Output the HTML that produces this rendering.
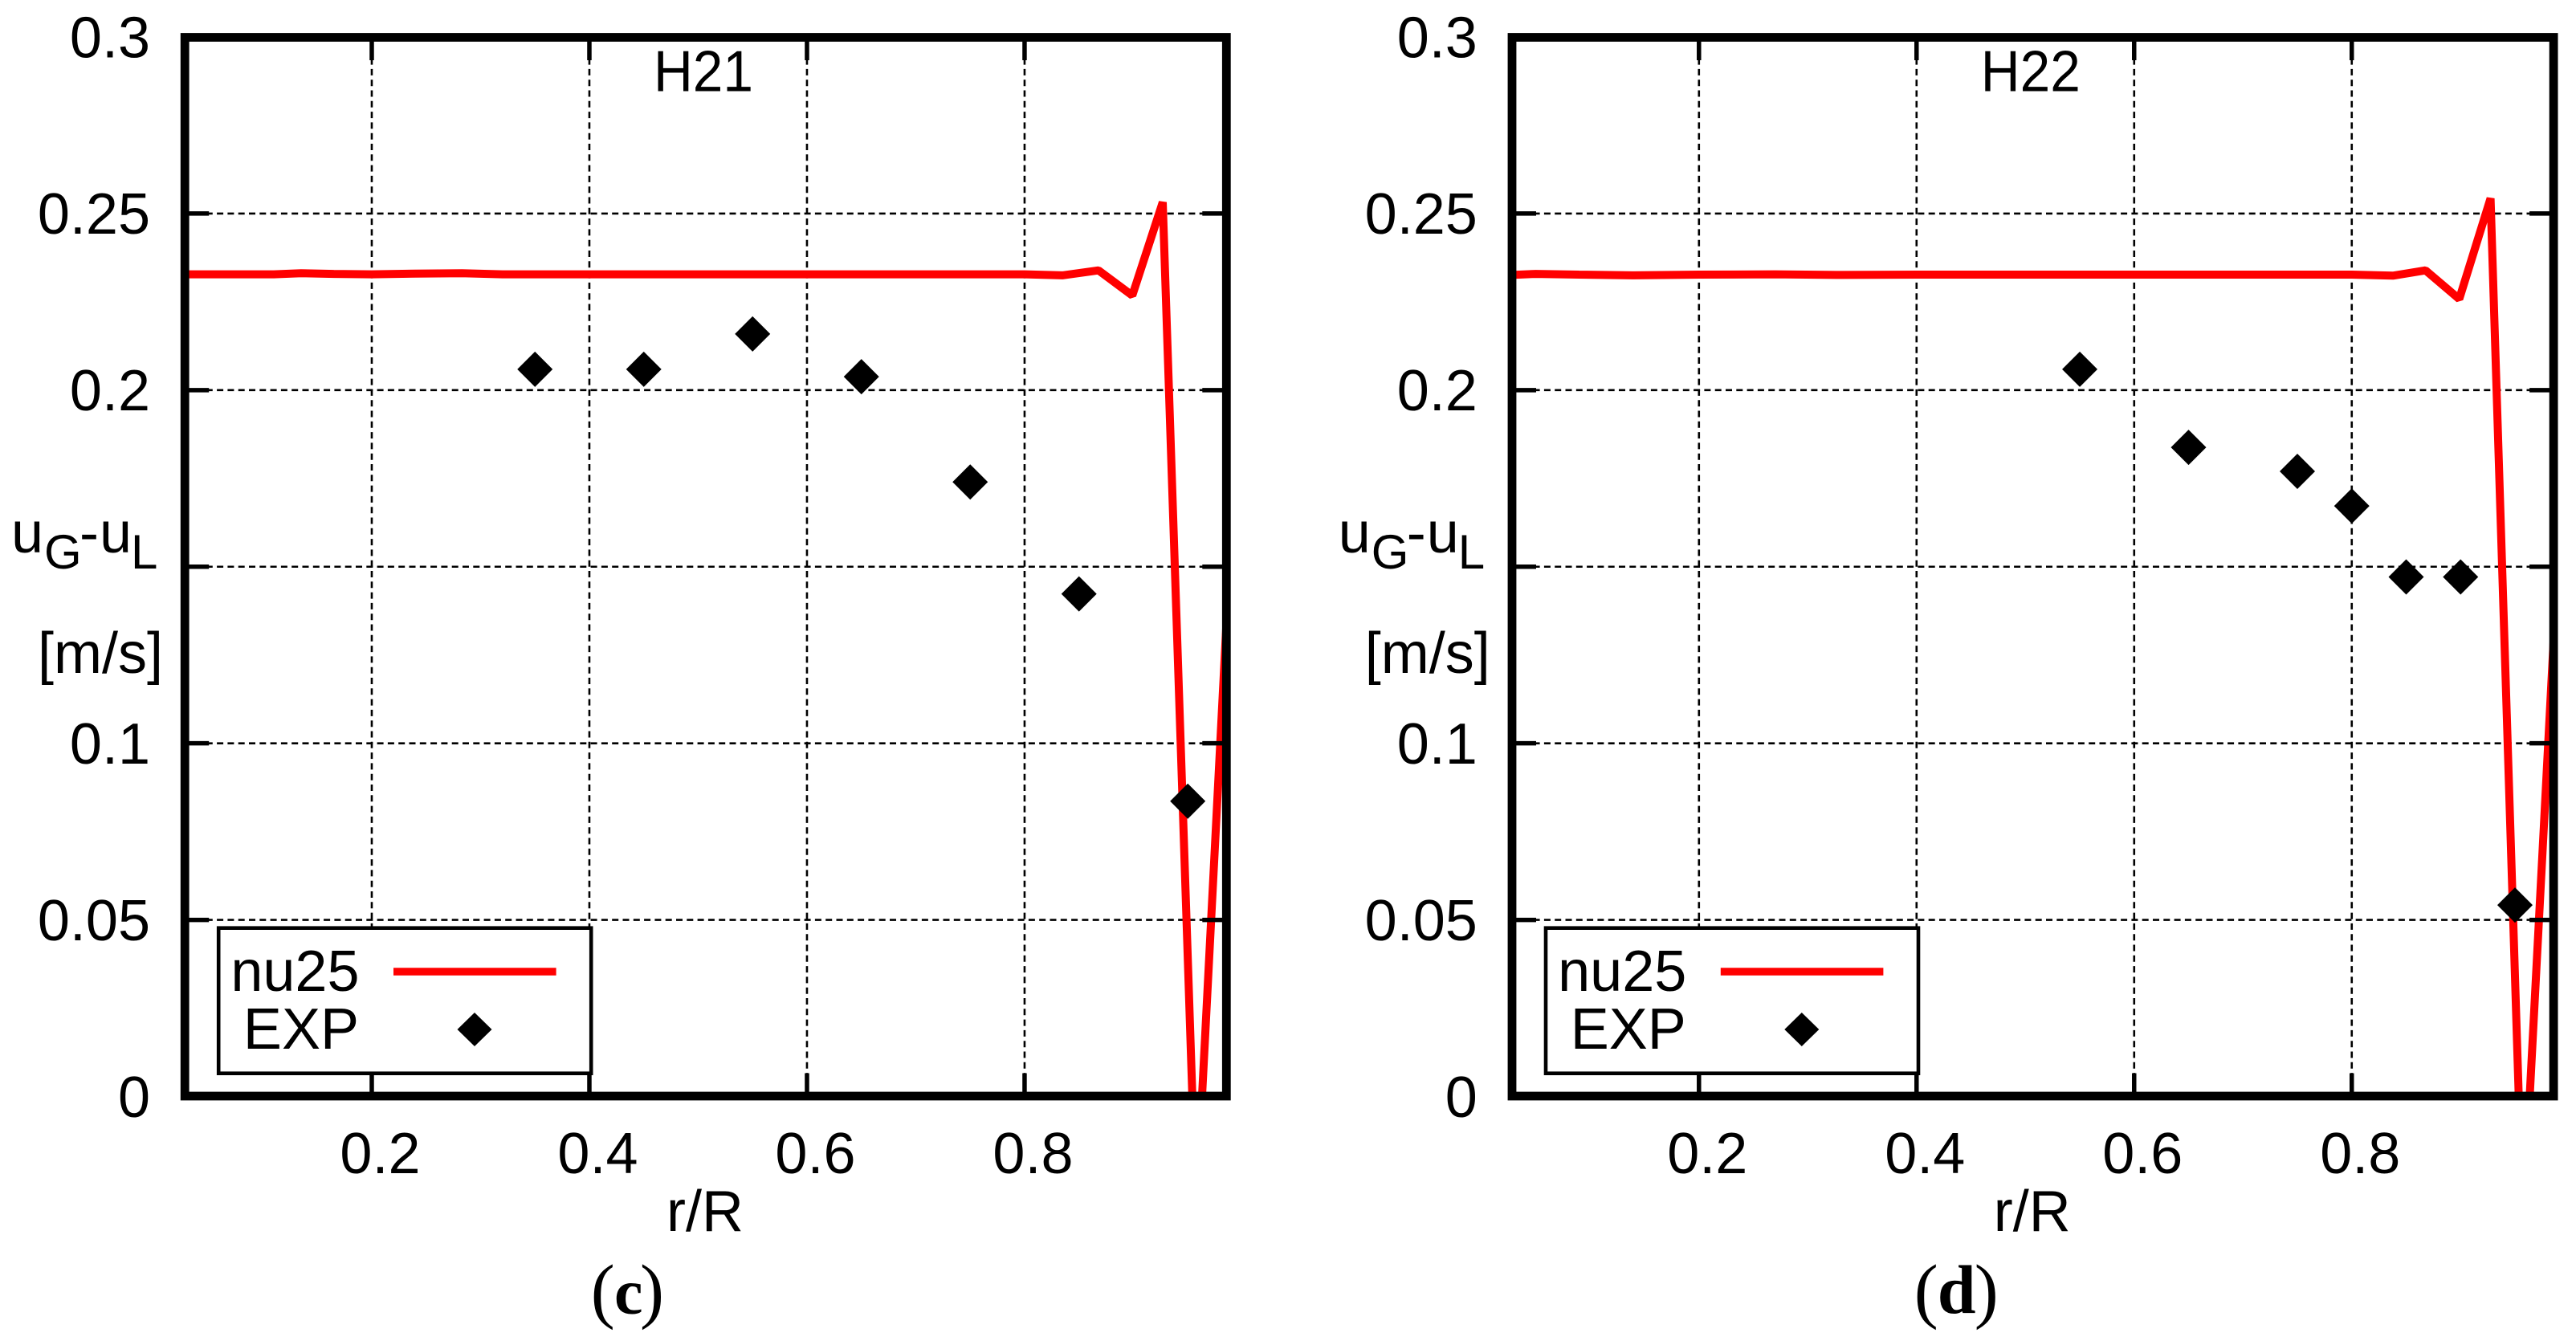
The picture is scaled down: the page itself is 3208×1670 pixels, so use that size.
<!DOCTYPE html>
<html lang="en">
<head>
<meta charset="utf-8">
<title>Gas-liquid velocity difference profiles H21 and H22</title>
<style>
html,body{margin:0;padding:0;background:#fff;}
svg{display:block;}
text{font-family:"Liberation Sans",sans-serif;font-size:72px;fill:#000;}
.sub{font-size:60px;}
.paren{font-family:"Liberation Serif",serif;font-size:90px;}
.cap-c{font-family:"Liberation Serif",serif;font-size:80px;font-weight:bold;}
.cap-d{font-family:"Liberation Serif",serif;font-size:86px;font-weight:bold;}
</style>
</head>
<body>
<svg id="figure" width="3208" height="1670" viewBox="0 0 3208 1670" xmlns="http://www.w3.org/2000/svg">
  <rect x="0" y="0" width="3208" height="1670" fill="#fff"/>

  <g id="panel-c">
    <g class="marks"></g>
    <text x="876" y="113.5" text-anchor="middle" textLength="124" lengthAdjust="spacingAndGlyphs">H21</text>
    <g>
      <text x="14" y="688">u</text>
      <text x="55" y="708" class="sub">G</text>
      <text x="99" y="688">-</text>
      <text x="124" y="688">u</text>
      <text x="163" y="708" class="sub">L</text>
      <text x="203" y="838" text-anchor="end">[m/s]</text>
    </g>
    <text x="878" y="1533" text-anchor="middle">r/R</text>
    <g>
      <rect x="272.2" y="1155.7" width="464" height="181" fill="#fff" stroke="#000" stroke-width="4.6"/>
      <text x="447.5" y="1234" text-anchor="end">nu25</text>
      <text x="447" y="1306" text-anchor="end">EXP</text>
      <line x1="490" y1="1210" x2="692.6" y2="1210" stroke="#f00" stroke-width="9.5"/>
      <path d="M591 1261 L612.5 1282 L591 1303 L569.5 1282 Z" fill="#000"/>
    </g>
    <g>
      <text x="735.7" y="1637" class="paren">(</text>
      <text x="765" y="1636" class="cap-c">c</text>
      <text x="797" y="1637" class="paren">)</text>
    </g>
  </g>

  <g id="panel-d" transform="translate(1652.8 0)">
    <g class="marks"></g>
    <text x="876" y="113.5" text-anchor="middle" textLength="124" lengthAdjust="spacingAndGlyphs">H22</text>
    <g>
      <text x="14" y="688">u</text>
      <text x="55" y="708" class="sub">G</text>
      <text x="99" y="688">-</text>
      <text x="124" y="688">u</text>
      <text x="163" y="708" class="sub">L</text>
      <text x="203" y="838" text-anchor="end">[m/s]</text>
    </g>
    <text x="878" y="1533" text-anchor="middle">r/R</text>
    <g>
      <rect x="272.2" y="1155.7" width="464" height="181" fill="#fff" stroke="#000" stroke-width="4.6"/>
      <text x="447.5" y="1234" text-anchor="end">nu25</text>
      <text x="447" y="1306" text-anchor="end">EXP</text>
      <line x1="490" y1="1210" x2="692.6" y2="1210" stroke="#f00" stroke-width="9.5"/>
      <path d="M591 1261 L612.5 1282 L591 1303 L569.5 1282 Z" fill="#000"/>
    </g>
    <g>
      <text x="731" y="1637" class="paren">(</text>
      <text x="760" y="1635" class="cap-d">d</text>
      <text x="806" y="1637" class="paren">)</text>
    </g>
  </g>
</svg>

<script>
// Tick values and printed labels
var xTickValues = [0.2, 0.4, 0.6, 0.8];
var xTickLabels = ['0.2', '0.4', '0.6', '0.8'];
var yTickValues = [0, 0.05, 0.1, 0.15, 0.2, 0.25, 0.3];
var yTickLabels = ['0', '0.05', '0.1', '', '0.2', '0.25', '0.3'];

// Panel (c) H21
var h21LineR = [0.0282, 0.11, 0.135, 0.165, 0.2, 0.24, 0.283, 0.32, 0.4, 0.5, 0.6, 0.7, 0.8, 0.8347, 0.868, 0.899, 0.927, 0.9577, 0.99];
var h21LineU = [0.2328, 0.2328, 0.2331, 0.2329, 0.2328, 0.2330, 0.2331, 0.2328, 0.2328, 0.2328, 0.2328, 0.2328, 0.2328, 0.2325, 0.2339, 0.2268, 0.2532, -0.0323, 0.1607];
var h21ExpR = [0.35, 0.45, 0.55, 0.65, 0.75, 0.85, 0.95];
var h21ExpU = [0.2059, 0.2059, 0.2159, 0.2038, 0.1740, 0.1423, 0.0836];

// Panel (d) H22
var h22LineR = [0.0282, 0.05, 0.09, 0.14, 0.2, 0.27, 0.33, 0.4, 0.5, 0.6, 0.7, 0.8, 0.8378, 0.8678, 0.8988, 0.9276, 0.9572, 0.99];
var h22LineU = [0.2326, 0.2329, 0.2327, 0.2325, 0.2327, 0.2328, 0.2326, 0.2327, 0.2327, 0.2327, 0.2327, 0.2327, 0.2324, 0.2339, 0.2258, 0.2543, -0.037, 0.1555];
var h22ExpR = [0.55, 0.65, 0.75, 0.80, 0.85, 0.90, 0.95];
var h22ExpU = [0.2059, 0.1838, 0.1770, 0.1672, 0.1471, 0.1471, 0.0542];

var SVG_NS = 'http://www.w3.org/2000/svg';
var PLOT_LEFT = 230.2, PLOT_RIGHT = 1527.3, PLOT_TOP = 46, PLOT_BOTTOM = 1365.5;
var X_MIN = 0.0282, X_MAX = 0.9855, Y_MIN = 0, Y_MAX = 0.3;

function xScale(v) {
  return PLOT_LEFT + (v - X_MIN) / (X_MAX - X_MIN) * (PLOT_RIGHT - PLOT_LEFT);
}
function yScale(v) {
  return PLOT_BOTTOM - (v - Y_MIN) / (Y_MAX - Y_MIN) * (PLOT_BOTTOM - PLOT_TOP);
}
function make(parent, tag, attrs, text) {
  var el = document.createElementNS(SVG_NS, tag);
  for (var key in attrs) { el.setAttribute(key, attrs[key]); }
  if (text !== undefined) { el.textContent = text; }
  parent.appendChild(el);
  return el;
}

function drawPanel(panelId, clipId, lineR, lineU, expR, expU) {
  var root = document.querySelector('#' + panelId + ' .marks');
  var i, el;

  var defs = make(root, 'defs', {});
  var clip = make(defs, 'clipPath', { id: clipId });
  make(clip, 'rect', { x: PLOT_LEFT, y: PLOT_TOP, width: PLOT_RIGHT - PLOT_LEFT, height: PLOT_BOTTOM - PLOT_TOP });

  // Grid
  for (i = 0; i < xTickValues.length; i++) {
    el = make(root, 'line', { x1: xScale(xTickValues[i]), x2: xScale(xTickValues[i]), y1: PLOT_TOP, y2: PLOT_BOTTOM, stroke: '#000', 'stroke-width': 2.6, 'stroke-dasharray': '8 5.3' });
    
    
  }
  for (i = 1; i < yTickValues.length - 1; i++) {
    el = make(root, 'line', { x1: PLOT_LEFT, x2: PLOT_RIGHT, y1: yScale(yTickValues[i]), y2: yScale(yTickValues[i]), stroke: '#000', 'stroke-width': 2.6, 'stroke-dasharray': '8 5.3' });
    
    
  }

  // Red simulation line
  var pts = [];
  for (i = 0; i < lineR.length; i++) {
    pts.push(xScale(lineR[i]).toFixed(1) + ',' + yScale(lineU[i]).toFixed(1));
  }
  el = make(root, 'polyline', { points: pts.join(' '), fill: 'none', stroke: '#f00', 'stroke-width': 10, 'stroke-linejoin': 'bevel', 'clip-path': 'url(#' + clipId + ')' });
  
  

  // Experimental diamonds
  for (i = 0; i < expR.length; i++) {
    var cx = xScale(expR[i]), cy = yScale(expU[i]);
    el = make(root, 'path', { d: 'M' + cx + ' ' + (cy - 22) + ' L' + (cx + 22) + ' ' + cy + ' L' + cx + ' ' + (cy + 22) + ' L' + (cx - 22) + ' ' + cy + ' Z', fill: '#000' });
    
    
  }

  // Ticks on all four sides
  for (i = 0; i < xTickValues.length; i++) {
    var tx = xScale(xTickValues[i]);
    el = make(root, 'line', { x1: tx, x2: tx, y1: PLOT_TOP, y2: PLOT_TOP + 29, stroke: '#000', 'stroke-width': 5.5 });
    
    
    el = make(root, 'line', { x1: tx, x2: tx, y1: PLOT_BOTTOM, y2: PLOT_BOTTOM - 29, stroke: '#000', 'stroke-width': 5.5 });
    
    
    el = make(root, 'text', { x: tx + 10.5, y: 1461, 'text-anchor': 'middle' }, xTickLabels[i]);
    
    
  }
  for (i = 0; i < yTickValues.length; i++) {
    var ty = yScale(yTickValues[i]);
    el = make(root, 'line', { x1: PLOT_LEFT, x2: PLOT_LEFT + 30, y1: ty, y2: ty, stroke: '#000', 'stroke-width': 5.5 });
    
    
    el = make(root, 'line', { x1: PLOT_RIGHT, x2: PLOT_RIGHT - 30, y1: ty, y2: ty, stroke: '#000', 'stroke-width': 5.5 });
    
    
    if (yTickLabels[i] !== '') {
      el = make(root, 'text', { x: 187, y: ty + 25.3, 'text-anchor': 'end' }, yTickLabels[i]);
      
      
    }
  }

  // Plot frame
  el = make(root, 'rect', { x: PLOT_LEFT, y: PLOT_TOP + 0.5, width: PLOT_RIGHT - PLOT_LEFT, height: PLOT_BOTTOM - PLOT_TOP - 1, fill: 'none', stroke: '#000', 'stroke-width': 10.8, 'stroke-linejoin': 'miter' });
  
  
}

drawPanel('panel-c', 'clip-c', h21LineR, h21LineU, h21ExpR, h21ExpU);
drawPanel('panel-d', 'clip-d', h22LineR, h22LineU, h22ExpR, h22ExpU);
</script>
</body>
</html>
